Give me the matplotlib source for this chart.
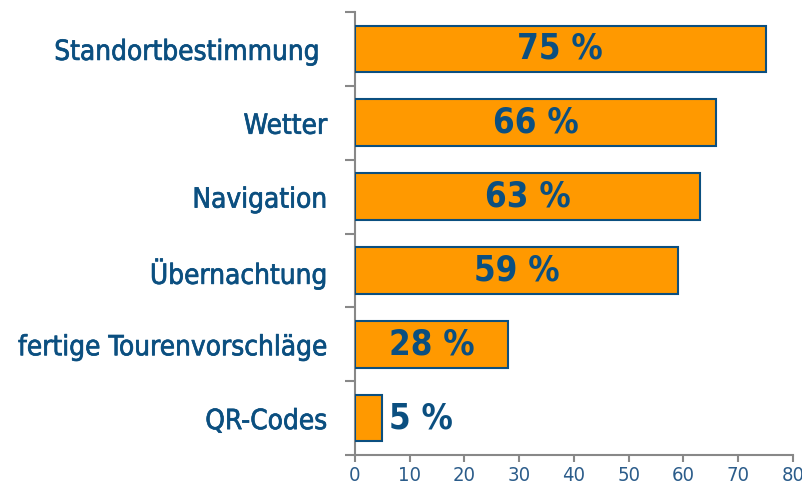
import numpy as np
import matplotlib.pyplot as plt
import matplotlib.patheffects as pe

categories = ["Standortbestimmung ", "Wetter", "Navigation", "Übernachtung",
              "fertige Tourenvorschläge", "QR-Codes"]
values = [75, 66, 63, 59, 28, 5]
value_labels = ["75 %", "66 %", "63 %", "59 %", "28 %", "5 %"]
xticks = [0, 10, 20, 30, 40, 50, 60, 70, 80]

# condensed look like the original
plt.rcParams['font.family'] = ['DejaVu Sans']
plt.rcParams['font.stretch'] = 'condensed'

blue = '#0b4f80'
orange = '#ff9900'
grey = '#888888'

fig = plt.figure(figsize=(8.03, 4.88), dpi=100)
ax = fig.add_axes([0.442, 0.0676, 0.5455, 0.9078])

y = np.arange(len(categories))
ax.barh(y, values, height=0.63, color=orange, edgecolor=blue, linewidth=1.5, zorder=3)
ax.set_ylim(len(categories) - 0.5, -0.5)
ax.set_xlim(0, 80)

for yi, v, lab in zip(y, values, value_labels):
    if v > 20:
        ax.text(v / 2, yi, lab, ha='center', va='center', color=blue,
                fontsize=25, fontweight='bold', zorder=4)
    else:
        ax.text(v + 1.3, yi, lab, ha='left', va='center', color=blue,
                fontsize=25, fontweight='bold', zorder=4)

ax.set_yticks(y)
ax.set_yticklabels(categories, fontsize=20, color=blue)
# a bit heavier than regular, like the semi-bold in the original
for t in ax.get_yticklabels():
    t.set_path_effects([pe.withStroke(linewidth=0.5, foreground=blue)])
ax.tick_params(axis='y', length=0, pad=20)
ax.set_yticks(np.arange(len(categories) + 1) - 0.5, minor=True)
ax.tick_params(axis='y', which='minor', length=7, color=grey, width=1.5)

ax.set_xticks(xticks)
ax.set_xticklabels([str(t) for t in xticks], fontsize=14.5, color='#2b5c8a')
ax.tick_params(axis='x', length=5, color=grey, width=1.5, pad=3)

for s in ['top', 'right']:
    ax.spines[s].set_visible(False)
for s in ['left', 'bottom']:
    ax.spines[s].set_color(grey)
    ax.spines[s].set_linewidth(1.5)

fig.savefig('out.png', dpi=100)
